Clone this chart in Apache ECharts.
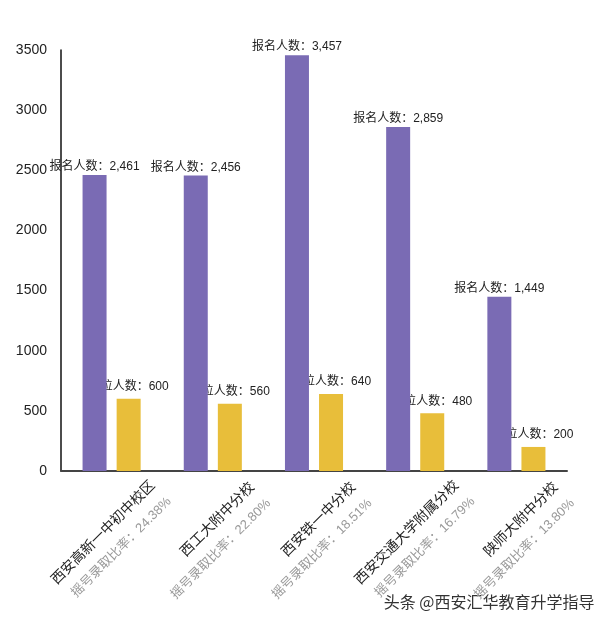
<!DOCTYPE html>
<html>
<head>
<meta charset="utf-8">
<script src="https://cdn.jsdelivr.net/npm/echarts@6/dist/echarts.min.js"></script>
<style>
  html, body { margin: 0; padding: 0; background: #fff; }
  #chart { width: 608px; height: 624px; }
</style>
</head>
<body>
<div id="chart"></div>
<script>
  // 学校与数据
  var schools = ['西安高新一中初中校区', '西工大附中分校', '西安铁一中分校', '西安交通大学附属分校', '陕师大附中分校'];
  var applicants = [2461, 2456, 3457, 2859, 1449];
  var places = [600, 560, 640, 480, 200];
  var ratios = ['24.38%', '22.80%', '18.51%', '16.79%', '13.80%'];
  var yTicks = [0, 500, 1000, 1500, 2000, 2500, 3000, 3500];

  var fontCn = '"Liberation Sans", "Noto Sans CJK SC", sans-serif';

  var chart = echarts.init(document.getElementById('chart'));
  chart.setOption({
    backgroundColor: '#fff',
    animation: false,
    textStyle: { fontFamily: fontCn },
    grid: { left: 61, right: 41, top: 50, bottom: 153 },
    xAxis: {
      type: 'category',
      data: schools,
      axisLine: { lineStyle: { color: '#444', width: 2 } },
      axisTick: { show: false },
      axisLabel: {
        interval: 0,
        rotate: 45,
        align: 'center',
        verticalAlign: 'middle',
        margin: 70,
        formatter: function (v, i) {
          return '{a|' + v + '}\n{b|摇号录取比率：' + ratios[i] + '}';
        },
        rich: {
          a: { fontSize: 14, color: '#222', lineHeight: 23, align: 'right', fontFamily: fontCn },
          b: { fontSize: 13, color: '#999', lineHeight: 23, align: 'right', fontFamily: fontCn }
        }
      }
    },
    yAxis: {
      type: 'value',
      min: yTicks[0],
      max: yTicks[yTicks.length - 1],
      interval: 500,
      axisLine: { show: true, lineStyle: { color: '#111', width: 1.5 } },
      axisTick: { show: false },
      splitLine: { show: false },
      axisLabel: { fontSize: 14, color: '#222', margin: 14, formatter: function (v) { return String(v); } }
    },
    series: [
      {
        name: '报名人数',
        type: 'bar',
        z: 3,
        data: applicants,
        barWidth: 24,
        barGap: '42%',
        itemStyle: { color: '#7a6bb4' },
        label: {
          show: true,
          position: 'top',
          distance: 2,
          fontSize: 12,
          color: '#222',
          formatter: function (p) { return '报名人数：' + p.value.toLocaleString('en-US'); }
        }
      },
      {
        name: '学位人数',
        type: 'bar',
        z: 1,
        data: places,
        barWidth: 24,
        itemStyle: { color: '#e8be3a' },
        label: {
          show: true,
          position: 'top',
          distance: 6,
          fontSize: 12,
          color: '#222',
          formatter: function (p) { return '学位人数：' + p.value; }
        }
      }
    ],
    graphic: [
      {
        type: 'text',
        right: 12,
        bottom: 13,
        style: {
          text: '头条 @西安汇华教育升学指导',
          fontSize: 16,
          fill: '#333',
          stroke: '#fff',
          lineWidth: 3,
          fontFamily: '"Noto Sans CJK SC", sans-serif'
        }
      }
    ]
  });
</script>
</body>
</html>
